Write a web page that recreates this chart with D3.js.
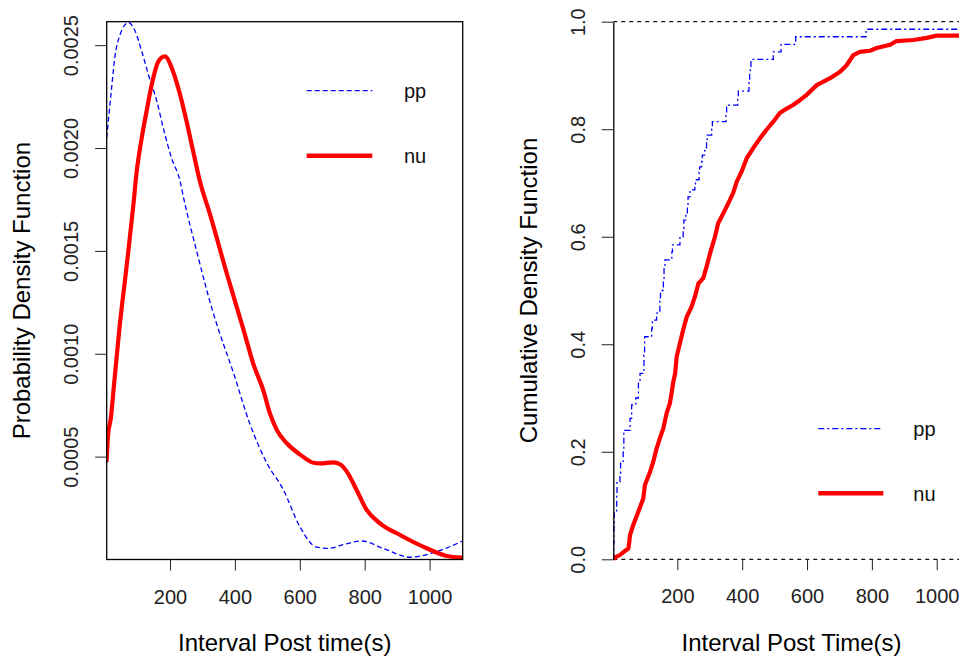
<!DOCTYPE html>
<html>
<head>
<meta charset="utf-8">
<script src="https://cdn.jsdelivr.net/npm/d3@7"></script>
<style>
body{margin:0;background:#fff;}
svg{display:block;font-family:"Liberation Sans",Arial,sans-serif;}
</style>
</head>
<body>
<svg id="chart" width="959" height="659"></svg>
<script>
// left panel: density estimates (x = interval in s, y = density)
var ppDensX = [5, 20, 30, 46, 72, 92, 113, 133, 159, 179, 205, 231, 241, 282, 333, 349, 395, 446, 498, 549, 600, 652, 688, 740, 791, 857, 940, 1011, 1102];
var ppDensY = [0.00205, 0.00229, 0.00244, 0.00255, 0.00261, 0.00257, 0.00247, 0.00236, 0.00223, 0.0021, 0.00195, 0.00184, 0.001765, 0.0015, 0.0012, 0.00112, 0.00091, 0.00066, 0.00047, 0.00034, 0.00016, 0.00006, 0.000054, 0.000075, 0.00009, 0.000054, 0.000011, 0.000033, 0.00009];
var nuDensX = [5, 9, 18, 27, 44, 66, 87, 97, 113, 128, 144, 164, 184, 210, 231, 251, 272, 292, 323, 375, 426, 457, 488, 508, 529, 560, 601, 642, 662, 703, 724, 745, 775, 806, 847, 909, 991, 1053, 1102];
var nuDensY = [0.00048, 0.0006, 0.00069, 0.00084, 0.00112, 0.00142, 0.00172, 0.00188, 0.00205, 0.00218, 0.00231, 0.00242, 0.002445, 0.00237, 0.00226, 0.00213, 0.00198, 0.00184, 0.00168, 0.00139, 0.00112, 0.00095, 0.00082, 0.00071, 0.00063, 0.000565, 0.00051, 0.00047, 0.000467, 0.000472, 0.000463, 0.000427, 0.000338, 0.000241, 0.000176, 0.000119, 0.0000545, 0.000017, 0.0000088];

// right panel: empirical cdf (x where the step happens, level after it)
var ppStepX = [2.5, 3.5, 4.5, 5.5, 13, 14, 23, 25, 33, 35, 54, 59, 72, 80, 85, 97, 99, 121, 123, 136, 146, 148, 157, 159, 162, 183, 185, 208, 218, 220, 226, 231, 233, 239, 254, 256, 267, 269, 275, 277, 284, 290, 292, 306, 308, 350, 352, 386, 388, 421, 423, 425, 427, 496, 520, 565, 782, 1150];
var ppStepF = [0, 0.03, 0.06, 0.09, 0.12, 0.144, 0.16, 0.182, 0.2, 0.24, 0.262, 0.287, 0.30, 0.33, 0.346, 0.38, 0.414, 0.43, 0.445, 0.458, 0.48, 0.50, 0.52, 0.544, 0.557, 0.572, 0.585, 0.600, 0.615, 0.631, 0.643, 0.656, 0.674, 0.687, 0.694, 0.706, 0.72, 0.730, 0.74, 0.752, 0.76, 0.775, 0.789, 0.80, 0.814, 0.83, 0.845, 0.858, 0.871, 0.89, 0.905, 0.917, 0.930, 0.944, 0.958, 0.972, 0.986, 1.0];
// nu has many observations, so its cdf is traced as a polyline through read points
var nuCdfX = [2.5, 10, 23, 35, 49, 52, 54, 64, 80, 95, 100, 116, 126, 136, 146, 157, 167, 177, 183, 187.5, 193, 198, 208, 218, 229, 244, 254, 265, 280, 290, 301, 316, 326, 342, 357, 372, 383, 398, 414, 434, 455, 475, 496, 516, 536, 557, 578, 599, 630, 671, 702, 722, 743, 763, 794, 815, 856, 876, 928, 969, 1000, 1110];
var nuCdfF = [0, 0.004, 0.008, 0.014, 0.02, 0.033, 0.045, 0.064, 0.089, 0.113, 0.138, 0.163, 0.182, 0.206, 0.225, 0.244, 0.272, 0.290, 0.312, 0.330, 0.345, 0.377, 0.402, 0.427, 0.451, 0.47, 0.488, 0.513, 0.523, 0.544, 0.569, 0.600, 0.625, 0.644, 0.662, 0.681, 0.702, 0.721, 0.746, 0.765, 0.783, 0.799, 0.814, 0.830, 0.838, 0.845, 0.854, 0.864, 0.882, 0.895, 0.907, 0.919, 0.938, 0.944, 0.946, 0.951, 0.957, 0.964, 0.966, 0.970, 0.974, 0.974];

// ticks
var xTicks = [200, 400, 600, 800, 1000];
var xTickLabels = ["200", "400", "600", "800", "1000"];
var yTicksL = [0.0005, 0.001, 0.0015, 0.002, 0.0025];
var yTickLabelsL = ["0.0005", "0.0010", "0.0015", "0.0020", "0.0025"];
var yTicksR = [0, 0.2, 0.4, 0.6, 0.8, 1];
var yTickLabelsR = ["0.0", "0.2", "0.4", "0.6", "0.8", "1.0"];
var seriesNames = ["pp", "nu"];

var svg = d3.select("#chart");
svg.append("rect").attr("width", 959).attr("height", 659).attr("fill", "#fff");

var FONT = "Liberation Sans, Arial, sans-serif";

function zip(xs, ys){
    return xs.map(function(d, i){ return [d, ys[i]]; });
}

function xAxis(x, y0){
    var g = svg.append("g")
        .attr("transform", "translate(0," + y0 + ")")
        .call(d3.axisBottom(x).tickValues(xTicks)
            .tickFormat(function(d, i){ return xTickLabels[i]; })
            .tickSize(11).tickSizeOuter(0));
    g.select(".domain").remove();
    g.attr("font-family", FONT).attr("font-size", 20);
    g.selectAll(".tick line").attr("stroke", "#222");
    g.selectAll(".tick text").attr("y", 44).attr("dy", 0).attr("fill", "#222");
    return g;
}

function yAxis(y, x0, ticks, labels, keepDomain){
    var g = svg.append("g")
        .attr("transform", "translate(" + x0 + ",0)")
        .call(d3.axisLeft(y).tickValues(ticks)
            .tickFormat(function(d, i){ return labels[i]; })
            .tickSize(11.6).tickSizeOuter(0));
    if (!keepDomain){ g.select(".domain").remove(); }
    else { g.select(".domain").attr("stroke", "#000").attr("stroke-width", 1.3); }
    g.attr("font-family", FONT).attr("font-size", 20);
    g.selectAll(".tick line").attr("stroke", "#222");
    g.selectAll(".tick text")
        .attr("transform", "rotate(-90)")
        .attr("x", 0).attr("y", -28.5).attr("dy", 0)
        .attr("text-anchor", "middle")
        .attr("fill", "#222");
    return g;
}

function title(text, x, y, rotate){
    svg.append("text")
        .attr("transform", "translate(" + x + "," + y + ")" + (rotate ? " rotate(-90)" : ""))
        .attr("text-anchor", "middle")
        .attr("font-size", 24)
        .attr("fill", "#000")
        .text(text);
}

function legendItem(x1, x2, y, tx, ty, name, stroke, width, dash){
    svg.append("line")
        .attr("x1", x1).attr("x2", x2).attr("y1", y).attr("y2", y)
        .attr("stroke", stroke).attr("stroke-width", width)
        .attr("stroke-dasharray", dash);
    svg.append("text").attr("x", tx).attr("y", ty)
        .attr("font-size", 20).attr("fill", "#111").text(name);
}

// ---------- left panel ----------
var L = {left: 106.7, right: 462.7, top: 21.7, bottom: 559.5};
var xL = d3.scaleLinear().domain([5, 1102]).range([L.left, L.right]);
var yL = d3.scaleLinear().domain([0, 0.002614]).range([L.bottom, L.top]);

svg.append("clipPath").attr("id", "clipL").append("rect")
    .attr("x", L.left).attr("y", L.top - 3)
    .attr("width", L.right - L.left).attr("height", L.bottom - L.top + 3);

var dens = d3.line()
    .x(function(d){ return xL(d[0]); })
    .y(function(d){ return yL(d[1]); })
    .curve(d3.curveMonotoneX);

var gL = svg.append("g").attr("clip-path", "url(#clipL)");
gL.append("path").attr("d", dens(zip(ppDensX, ppDensY)))
    .attr("fill", "none").attr("stroke", "#0000ff").attr("stroke-width", 1.3)
    .attr("stroke-dasharray", "5,3");
gL.append("path").attr("d", dens(zip(nuDensX, nuDensY)))
    .attr("fill", "none").attr("stroke", "#ff0000").attr("stroke-width", 4.2)
    .attr("stroke-linejoin", "round").attr("stroke-linecap", "round");

svg.append("rect")
    .attr("x", L.left).attr("y", L.top)
    .attr("width", L.right - L.left).attr("height", L.bottom - L.top)
    .attr("fill", "none").attr("stroke", "#000").attr("stroke-width", 1.3);

xAxis(xL, L.bottom);
yAxis(yL, L.left, yTicksL, yTickLabelsL, false);
title("Interval Post time(s)", (L.left + L.right) / 2, 651, false);
title("Probability Density Function", 30, (L.top + L.bottom) / 2, true);

legendItem(306.7, 372.3, 90.7, 404, 98, seriesNames[0], "#0000ff", 1.3, "5,3");
legendItem(306.7, 372.3, 155.7, 404, 163, seriesNames[1], "#ff0000", 4.5, null);

// ---------- right panel ----------
var R = {left: 613.3, right: 969.8, top: 21.7, bottom: 559.3};
var xR = d3.scaleLinear().domain([2.5, 1102]).range([R.left, R.right]);
var yR = d3.scaleLinear().domain([0, 1]).range([R.bottom, R.top]);

svg.append("clipPath").attr("id", "clipR").append("rect")
    .attr("x", R.left).attr("y", 0)
    .attr("width", 959 - R.left).attr("height", 600);

var gR = svg.append("g").attr("clip-path", "url(#clipR)");
// reference lines at 0 and 1
[0, 1].forEach(function(h){
    gR.append("line")
        .attr("x1", R.left).attr("x2", 959)
        .attr("y1", yR(h)).attr("y2", yR(h))
        .attr("stroke", "#111").attr("stroke-width", 1.2)
        .attr("stroke-dasharray", "4,4");
});

var step = d3.line()
    .x(function(d){ return xR(d[0]); })
    .y(function(d){ return yR(d[1]); })
    .curve(d3.curveStepAfter);
var trace = d3.line()
    .x(function(d){ return xR(d[0]); })
    .y(function(d){ return yR(d[1]); });

gR.append("path").attr("d", step(zip(ppStepX, ppStepF)))
    .attr("fill", "none").attr("stroke", "#0000ff").attr("stroke-width", 1.3)
    .attr("stroke-dasharray", "6,3,2,3");
gR.append("path").attr("d", trace(zip(nuCdfX, nuCdfF)))
    .attr("fill", "none").attr("stroke", "#ff0000").attr("stroke-width", 4.2)
    .attr("stroke-linejoin", "round");

xAxis(xR, R.bottom);
yAxis(yR, R.left, yTicksR, yTickLabelsR, true);
title("Interval Post Time(s)", (R.left + R.right) / 2, 651, false);
title("Cumulative Density Function", 537, (R.top + R.bottom) / 2, true);

legendItem(818.3, 883.3, 428.7, 913.3, 436, seriesNames[0], "#0000ff", 1.3, "6,3,2,3");
legendItem(818.3, 883.3, 493.3, 913.3, 501, seriesNames[1], "#ff0000", 4.5, null);
</script>
</body>
</html>
